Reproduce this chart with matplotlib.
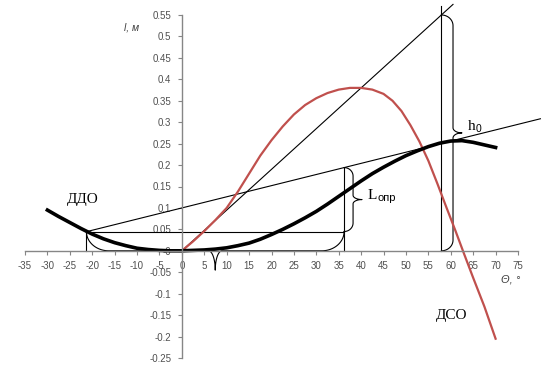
import numpy as np
import matplotlib
matplotlib.use("Agg")
import matplotlib.pyplot as plt

# angle (deg) and arm value (m)
theta_ddo = [-30, -27.5, -25, -22.5, -20, -17.5, -15, -12.5, -10, -7.5, -5,
             -2.5, 0, 2.5, 5, 7.5, 10, 12.5, 15, 17.5, 20, 22.5, 25, 27.5,
             30, 32.5, 35, 37.5, 40, 42.5, 45, 47.5, 50, 52.5, 55, 57.5, 60,
             62.5, 65, 67.5, 70]
l_ddo = [0.095, 0.08, 0.066, 0.052, 0.039, 0.028, 0.019, 0.012, 0.006, 0.003,
         0.001, 0.0, 0.0, 0.001, 0.002, 0.004, 0.007, 0.012, 0.018, 0.027,
         0.038, 0.05, 0.063, 0.077, 0.092, 0.109, 0.127, 0.145, 0.163, 0.18,
         0.195, 0.209, 0.222, 0.233, 0.243, 0.251, 0.256, 0.257, 0.253,
         0.247, 0.241]

theta_dso = [0, 2.5, 5, 7.5, 10, 12.5, 15, 17.5, 20, 22.5, 25, 27.5, 30,
             32.5, 35, 37.5, 40, 42.5, 45, 47, 49, 51, 53, 55, 57, 59, 61,
             63, 65, 67.5, 70]
l_dso = [0.0, 0.022, 0.046, 0.072, 0.1, 0.138, 0.18, 0.222, 0.258, 0.29,
         0.318, 0.34, 0.356, 0.368, 0.376, 0.38, 0.38, 0.376, 0.366, 0.35,
         0.326, 0.293, 0.255, 0.21, 0.157, 0.102, 0.048, -0.008, -0.063,
         -0.13, -0.205]

# construction lines
theta_a = -21.3      # left point on the ДДО curve
l_a = 0.045
theta_b = 36.2       # Lопр position
theta_c = 57.9       # h0 position
slope_low = 0.0026   # line through the left point
l_low0 = 0.1         # its value at 0 deg
slope_high = 0.0095  # steep line from the origin
theta_low_end = 80
theta_high_end = 60.5
l_vline_top = 0.57

xticks = np.arange(-35, 76, 5)
yticks = np.round(np.arange(-0.25, 0.551, 0.05), 2)


def brace(ax, base, s1, s2, w, tip, r, rt, vertical=True, sign=1):
    # curly brace in data units, t across the span, s along it
    th = np.linspace(0, np.pi / 2, 30)
    sm = (s1 + s2) / 2
    t1 = w * np.sin(th)
    u1 = s1 + r - r * np.cos(th)
    t2 = w + tip - tip * np.cos(th)
    u2 = sm - rt + rt * np.sin(th)
    t = np.concatenate([t1, t2])
    s = np.concatenate([u1, u2])
    t = np.concatenate([t, t[::-1]])
    s = np.concatenate([s, (s1 + s2 - s)[::-1]])
    if vertical:
        ax.plot(base + sign * t, s, color="black", lw=0.8, clip_on=False)
    else:
        ax.plot(s, base + sign * t, color="black", lw=0.8, clip_on=False)


fig = plt.figure(figsize=(5.57, 3.73), dpi=100)
ax = fig.add_axes([25 / 557, 15 / 373, 493 / 557, 343 / 373])
ax.set_xlim(-35, 75)
ax.set_ylim(-0.25, 0.55)

for side in ["top", "right"]:
    ax.spines[side].set_visible(False)
ax.spines["left"].set_position(("data", 0))
ax.spines["bottom"].set_position(("data", 0))
for side in ["left", "bottom"]:
    ax.spines[side].set_color("#868686")
    ax.spines[side].set_linewidth(1.0)

ax.set_xticks(xticks)
ax.set_xticklabels([f"{v:g}" for v in xticks])
ax.set_yticks(yticks)
ax.set_yticklabels([f"{v:g}" for v in yticks])
ax.tick_params(direction="out", length=3, width=0.8, color="#868686",
               labelsize=7, labelcolor="#505050", pad=4.5)
for lab in ax.get_xticklabels() + ax.get_yticklabels():
    lab.set_family("Liberation Sans")

# construction lines
ax.plot([theta_a, theta_low_end],
        [l_low0 + slope_low * theta_a, l_low0 + slope_low * theta_low_end],
        color="black", lw=0.8, clip_on=False)
ax.plot([0, theta_high_end], [0, slope_high * theta_high_end],
        color="black", lw=0.8, clip_on=False)
ax.plot([theta_a, theta_b], [l_a, l_a], color="black", lw=0.8)
ax.plot([theta_a, theta_a], [0, l_a], color="black", lw=0.8)
ax.plot([theta_b, theta_b], [0, l_low0 + slope_low * theta_b],
        color="black", lw=0.8)
ax.plot([theta_c, theta_c], [0, l_vline_top], color="black", lw=0.8,
        clip_on=False)

# braces
brace(ax, theta_b, l_a, l_low0 + slope_low * theta_b, 2.0, 2.0, 0.02, 0.01)
brace(ax, theta_c, 0, slope_high * theta_c, 2.6, 2.0, 0.025, 0.012)
brace(ax, l_a, theta_a, theta_b, 0.045, 0.045, 5.0, 1.5,
      vertical=False, sign=-1)

# curves
ax.plot(theta_dso, l_dso, color="#C0504D", lw=1.6, solid_joinstyle="round")
ax.plot(theta_ddo, l_ddo, color="black", lw=2.6, solid_joinstyle="round")

# labels
serif = "Liberation Serif"
sans = "Liberation Sans"
ax.text(-11.2, 0.522, "l, м", fontsize=7.5, style="italic", family=sans,
        color="#404040", ha="center", va="center")
ax.text(73.4, -0.068, "Θ, °", fontsize=8, style="italic", family=sans,
        color="#404040", ha="center", va="center")
ax.text(-22.1, 0.119, "ДДО", fontsize=11, family=serif, ha="center",
        va="center")
ax.text(60.3, -0.152, "ДСО", fontsize=11, family=serif, ha="center",
        va="center")
ax.text(65.6, 0.289, "h", fontsize=11, family=serif, ha="right",
        va="center")
ax.text(65.6, 0.283, "0", fontsize=7.5, family=sans, ha="left",
        va="center")
ax.text(43.6, 0.128, "L", fontsize=11, family=serif, ha="right",
        va="center")
ax.text(43.7, 0.124, "опр", fontsize=8, family=sans, ha="left",
        va="center")

fig.savefig("out.png", dpi=100)
